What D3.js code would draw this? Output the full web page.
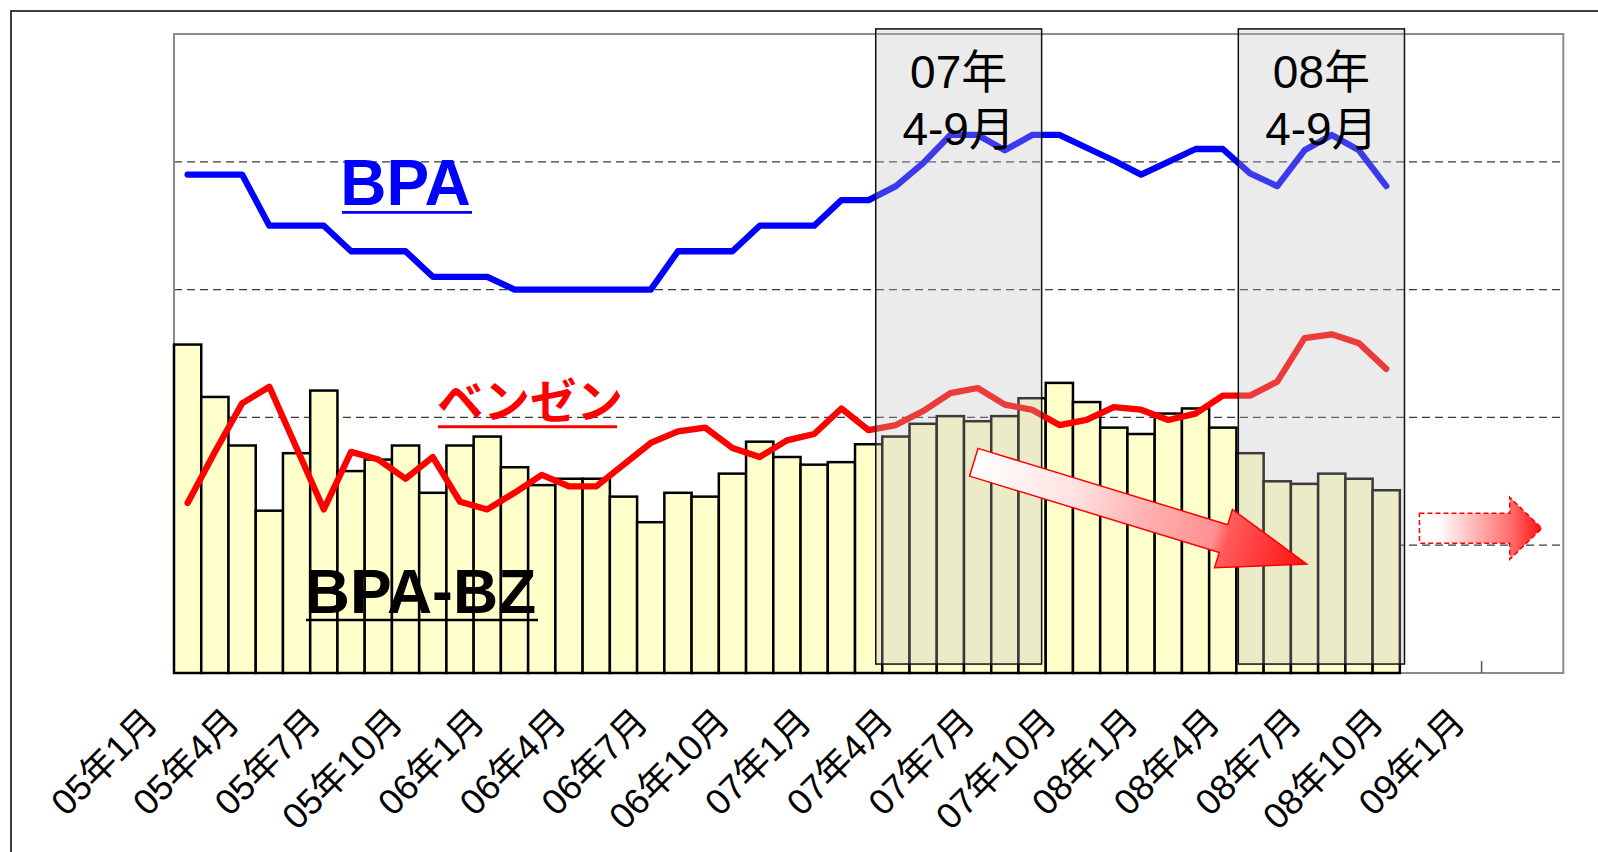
<!DOCTYPE html>
<html><head><meta charset="utf-8">
<script src="https://cdn.jsdelivr.net/npm/d3@7"></script>
<style>body{margin:0;background:#fff}svg{display:block}</style>
</head><body>
<svg id="c" width="1598" height="852"></svg>
<script>
// ---------- data ----------
const categories = [
 "05年1月","05年2月","05年3月","05年4月","05年5月","05年6月","05年7月","05年8月","05年9月","05年10月","05年11月","05年12月",
 "06年1月","06年2月","06年3月","06年4月","06年5月","06年6月","06年7月","06年8月","06年9月","06年10月","06年11月","06年12月",
 "07年1月","07年2月","07年3月","07年4月","07年5月","07年6月","07年7月","07年8月","07年9月","07年10月","07年11月","07年12月",
 "08年1月","08年2月","08年3月","08年4月","08年5月","08年6月","08年7月","08年8月","08年9月","08年10月","08年11月","08年12月",
 "09年1月","09年2月","09年3月"];
const tickLabels = ["05年1月","05年4月","05年7月","05年10月","06年1月","06年4月","06年7月","06年10月",
 "07年1月","07年4月","07年7月","07年10月","08年1月","08年4月","08年7月","08年10月","09年1月"];
const yearTicks = ["05年1月","06年1月","07年1月","08年1月","09年1月"];
// BPA-BZ spread (bars)
const bpaBz = [2.57,2.16,1.78,1.27,1.72,2.21,1.58,1.67,1.78,1.41,1.78,1.85,
               1.61,1.47,1.52,1.52,1.38,1.18,1.41,1.38,1.56,1.81,1.69,1.63,
               1.65,1.79,1.85,1.95,2.01,1.97,2.01,2.15,2.27,2.12,1.92,1.87,
               2.03,2.07,1.92,1.72,1.50,1.48,1.56,1.52,1.43];
// BPA price (blue line)
const bpa = [3.90,3.90,3.90,3.50,3.50,3.50,3.30,3.30,3.30,3.10,3.10,3.10,
             3.00,3.00,3.00,3.00,3.00,3.00,3.30,3.30,3.30,3.50,3.50,3.50,
             3.70,3.70,3.81,3.99,4.21,4.21,4.09,4.21,4.21,4.11,4.01,3.90,
             4.00,4.10,4.10,3.91,3.81,4.09,4.21,4.09,3.81];
// Benzene price (red line)
const benzene = [1.33,1.73,2.11,2.24,1.76,1.28,1.73,1.67,1.52,1.69,1.34,1.28,
                 1.41,1.55,1.46,1.46,1.63,1.80,1.89,1.92,1.76,1.69,1.82,1.87,
                 2.07,1.90,1.94,2.05,2.19,2.23,2.10,2.06,1.94,1.98,2.08,2.06,
                 1.98,2.03,2.17,2.17,2.28,2.62,2.65,2.58,2.38];
const gridValues = [1,2,3,4];
const highlightTitles = [["07年","4-9月"],["08年","4-9月"]];
const highlightSpans = [[25.76,31.85],[39.07,45.17]];   // category positions
const highlightValues = [0.07,5.04];
const trendArrow = {from:[29.36,1.649], to:[41.58,0.853]};
const outlookArrow = {from:[45.72,1.132], to:[50.21,1.132]};

// ---------- layout ----------
const L = 174, R = 1563.3, T = 34, B = 673;
const svg = d3.select("#c");
const x = d3.scaleBand().domain(categories).range([L, R]).padding(0);
const bw = x.bandwidth();
const y = d3.scaleLinear().domain([0, 5]).range([B, T]);
const pos = i => L + i * x.step();
const cx = c => x(c) + bw / 2;
const FONT = "'Liberation Sans', Arial, 'Noto Sans CJK JP', sans-serif";

// outer frame
svg.append("rect").attr("x", 11).attr("y", 11).attr("width", 1620).attr("height", 900)
  .attr("fill", "none").attr("stroke", "#000").attr("stroke-width", 1.5);

// gridlines
svg.append("g").selectAll("line").data(gridValues).join("line")
  .attr("x1", L).attr("x2", R).attr("y1", d => y(d)).attr("y2", d => y(d))
  .attr("stroke", "#3a3a3a").attr("stroke-width", 1.2).attr("stroke-dasharray", "8,5");

// plot frame
svg.append("rect").attr("x", L).attr("y", T).attr("width", R - L).attr("height", B - T)
  .attr("fill", "none").attr("stroke", "#8a8a8a").attr("stroke-width", 2);

// year tick marks (inside)
svg.append("g").selectAll("line").data(yearTicks).join("line")
  .attr("x1", d => x(d)).attr("x2", d => x(d)).attr("y1", B).attr("y2", B - 12)
  .attr("stroke", "#555").attr("stroke-width", 1.5);

// bars
svg.append("g").selectAll("rect").data(bpaBz).join("rect")
  .attr("x", (d, i) => x(categories[i])).attr("width", bw)
  .attr("y", d => y(d)).attr("height", d => y(0) - y(d))
  .attr("fill", "#FFFFCC").attr("stroke", "#000").attr("stroke-width", 2.5);

// lines
const line = d3.line().x((d, i) => cx(categories[i])).y(d => y(d));
svg.append("path").datum(bpa).attr("d", line).attr("fill", "none")
  .attr("stroke", "#0000FF").attr("stroke-width", 6.3).attr("stroke-linejoin", "round").attr("stroke-linecap", "round");
svg.append("path").datum(benzene).attr("d", line).attr("fill", "none")
  .attr("stroke", "#FF0000").attr("stroke-width", 6.3).attr("stroke-linejoin", "round").attr("stroke-linecap", "round");

// highlight boxes
const hb = svg.append("g");
highlightSpans.forEach((s, k) => {
  const x0 = pos(s[0]), x1 = pos(s[1]);
  hb.append("rect").attr("x", x0).attr("y", y(highlightValues[1]))
    .attr("width", x1 - x0).attr("height", y(highlightValues[0]) - y(highlightValues[1]))
    .attr("fill", "rgba(191,191,191,0.31)").attr("stroke", "#111").attr("stroke-width", 1.5);
  const t = hb.append("text").attr("text-anchor", "middle").attr("font-family", FONT)
    .attr("font-size", 46).attr("fill", "#000");
  t.append("tspan").attr("x", (x0 + x1) / 2).attr("y", 88).text(highlightTitles[k][0]);
  t.append("tspan").attr("x", (x0 + x1) / 2).attr("y", 145).text(highlightTitles[k][1]);
});

// gradients
const defs = svg.append("defs");
const g1 = defs.append("linearGradient").attr("id", "g1").attr("x1", 0).attr("x2", 1).attr("y1", 0).attr("y2", 0);
[[0, "#FFFFFF"], [0.3, "#FFE2E2"], [0.5, "#FFB4B4"], [0.72, "#FF9090"], [0.76, "#FF5A5A"], [1, "#FF1010"]]
  .forEach(s => g1.append("stop").attr("offset", s[0]).attr("stop-color", s[1]));
const g2 = defs.append("linearGradient").attr("id", "g2").attr("x1", 0).attr("x2", 1).attr("y1", 0).attr("y2", 0);
[[0, "#FFFFFF"], [0.15, "#FFFFFF"], [0.74, "#FF7070"], [1, "#FF1010"]]
  .forEach(s => g2.append("stop").attr("offset", s[0]).attr("stop-color", s[1]));

function arrow(a, bodyHalf, headHalf, headLen, fill, dash) {
  const px0 = pos(a.from[0]), py0 = y(a.from[1]), px1 = pos(a.to[0]), py1 = y(a.to[1]);
  const len = Math.hypot(px1 - px0, py1 - py0);
  const ang = Math.atan2(py1 - py0, px1 - px0) * 180 / Math.PI;
  const hb0 = len - headLen;
  const p = `M0,${-bodyHalf}L${hb0},${-bodyHalf}L${hb0},${-headHalf}L${len},0L${hb0},${headHalf}L${hb0},${bodyHalf}L0,${bodyHalf}Z`;
  svg.append("path").attr("d", p).attr("transform", `translate(${px0},${py0}) rotate(${ang})`)
    .attr("fill", fill).attr("stroke", "#FF0000").attr("stroke-width", 1.5)
    .attr("stroke-dasharray", dash).attr("stroke-linejoin", "miter");
}
arrow(trendArrow, 14.5, 30.5, 87, "url(#g1)", null);
arrow(outlookArrow, 15, 31, 32, "url(#g2)", "5,3");

// series labels
function label(txt, xx, yy, size, color, weight, ul) {
  svg.append("text").attr("x", xx).attr("y", yy).attr("font-family", FONT)
    .attr("font-size", size).attr("font-weight", weight).attr("fill", color).text(txt);
  svg.append("line").attr("x1", ul[0]).attr("x2", ul[1]).attr("y1", ul[2]).attr("y2", ul[2])
    .attr("stroke", color).attr("stroke-width", ul[3]);
}
label("BPA", 340.3, 205, 64, "#0000FF", "bold", [342, 472, 212.3, 2.7]);
label("BPA-BZ", 304.8, 612.7, 62.5, "#000", "bold", [306, 538, 620, 2.5]);
svg.append("text").attr("x", 437).attr("y", 418).attr("font-family", "'Noto Sans CJK JP', sans-serif")
  .attr("font-size", 46.5).attr("font-weight", "bold").attr("fill", "#FF0000").text("ベンゼン");
svg.append("line").attr("x1", 438).attr("x2", 617).attr("y1", 426.7).attr("y2", 426.7)
  .attr("stroke", "#FF0000").attr("stroke-width", 3);

// x axis labels
const ax = svg.append("g").attr("transform", `translate(0,${B})`)
  .call(d3.axisBottom(x).tickValues(tickLabels).tickSize(0).tickPadding(0));
ax.select(".domain").remove();
ax.selectAll("text")
  .attr("x", 0).attr("y", 0).attr("dy", null)
  .attr("transform", "translate(-28,51) rotate(-45)")
  .attr("text-anchor", "end").attr("font-family", FONT).attr("font-size", 36).attr("fill", "#000");
</script>
</body></html>
